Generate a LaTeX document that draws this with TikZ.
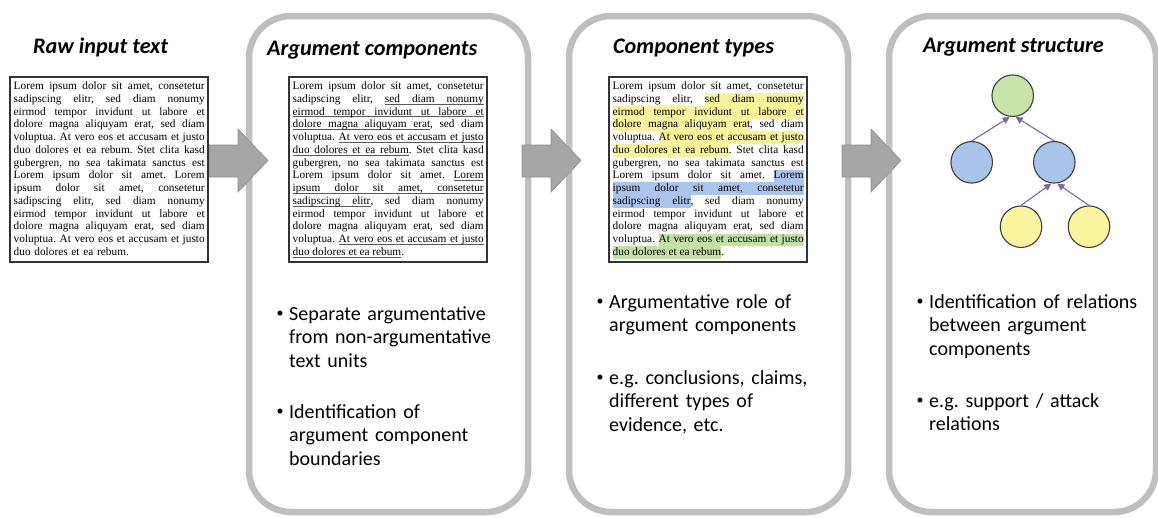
\documentclass[tikz,border=0pt]{standalone}
\usepackage{fontspec}
\setmainfont{Carlito}
\newfontfamily\boxfont{Liberation Serif}
\usetikzlibrary{arrows.meta}

\definecolor{panelgray}{HTML}{BFBFBF}
\definecolor{arrowfill}{HTML}{A6A6A6}
\definecolor{arrowline}{HTML}{8E8E8E}
\definecolor{boxline}{HTML}{333333}
\definecolor{ulc}{HTML}{5A5A5A}
\definecolor{hlY}{HTML}{FBF39B}
\definecolor{hlB}{HTML}{AAC4EC}
\definecolor{hlC}{HTML}{C5E0A5}
\definecolor{nodeG}{HTML}{C9E2A8}
\definecolor{nodeB}{HTML}{A9C4EB}
\definecolor{nodeY}{HTML}{FCF49E}
\definecolor{circline}{HTML}{3F3F3F}
\definecolor{relpurple}{HTML}{8064A2}

% --- marked word runs: underline or highlight that also covers stretched spaces
\makeatletter
\def\mk@glue{\hskip\fontdimen2\font plus\fontdimen3\font minus\fontdimen4\font\relax}
\def\mk@word#1{\setbox0\hbox{#1}\rlap{\color{\mk@col}\vrule \mk@spec width \wd0}\box0}
\def\mk@space{{\color{\mk@col}\leaders\vrule \mk@spec\mk@glue}}
\def\mk@loop#1 #2\@nil{\mk@word{#1}\ifx\relax#2\relax\else\mk@space\mk@loop#2\@nil\fi}
\newcommand\ulseg[1]{\begingroup\def\mk@col{ulc}\def\mk@spec{height -1.3pt depth 1.9pt}\mk@loop#1 \@nil\endgroup}
\newcommand\hlseg[2]{\begingroup\def\mk@col{#1}\def\mk@spec{height 9.2pt depth 3.5pt}\mk@loop#2 \@nil\endgroup}
% one justified line of the sample text
\newcommand\Ln[1]{\hbox to\linewidth{\spaceskip=\fontdimen2\font plus\fontdimen3\font minus\fontdimen4\font\relax #1}}
\makeatother
\newcommand\plainseg[1]{#1}
\newcommand\hlA[1]{\hlseg{hlY}{#1}}
\newcommand\hlB[1]{\hlseg{hlB}{#1}}
\newcommand\hlC[1]{\hlseg{hlC}{#1}}
\newcommand\plainsegs{\let\segA\plainseg\let\segB\plainseg\let\segC\plainseg}
\newcommand\ulsegs{\let\segA\ulseg\let\segB\ulseg\let\segC\ulseg}
\newcommand\hlsegs{\let\segA\hlA\let\segB\hlB\let\segC\hlC}
\newcommand\loremlines{%
\Ln{Lorem ipsum dolor sit amet, consetetur}
\Ln{sadipscing elitr, \segA{sed diam nonumy}}
\Ln{\segA{eirmod tempor invidunt ut labore et}}
\Ln{\segA{dolore magna aliquyam erat}, sed diam}
\Ln{voluptua. \segA{At vero eos et accusam et justo}}
\Ln{\segA{duo dolores et ea rebum}. Stet clita kasd}
\Ln{gubergren, no sea takimata sanctus est}
\Ln{Lorem ipsum dolor sit amet. \segB{Lorem}}
\Ln{\segB{ipsum dolor sit amet, consetetur}}
\Ln{\segB{sadipscing elitr}, sed diam nonumy}
\Ln{eirmod tempor invidunt ut labore et}
\Ln{dolore magna aliquyam erat, sed diam}
\Ln{voluptua. \segC{At vero eos et accusam et justo}}
\hbox{\segC{duo dolores et ea rebum}.}}
\newcommand\loremfont{\boxfont\fontsize{11.3}{12.77}\selectfont\frenchspacing}
\newcommand\itemfont{\fontsize{20}{23.8}\selectfont\frenchspacing}

\tikzset{
  panel/.style={draw=panelgray, line width=6.5pt, rounded corners=42pt,
    inner sep=0pt, minimum height=496pt},
  blockarr/.style={fill=arrowfill, draw=arrowline, line width=0.6pt, line join=miter},
  txtbox/.style={draw=boxline, fill=white, line width=1.3pt, inner sep=0pt,
    minimum width=198pt, minimum height=185pt},
  loremtxt/.style={text width=191pt, inner sep=0pt, anchor=base west, font=\loremfont},
  title/.style={anchor=base west, inner sep=0pt,
    font=\bfseries\itshape\fontsize{22.2}{26}\selectfont},
  bullet/.style={anchor=base west, inner sep=0pt, yshift=2.2pt,
    font=\fontsize{14}{16}\selectfont},
  item/.style={anchor=base west, inner sep=0pt, align=left, text width=240pt,
    font=\itemfont},
  circ/.style={circle, draw=circline, line width=1.1pt, minimum size=41.5pt, inner sep=0pt},
  rel/.style={draw=relpurple, line width=1.1pt, -{Triangle[length=7pt,width=7pt]}},
}

\begin{document}
\begin{tikzpicture}[x=1pt, y=-1pt]
\useasboundingbox (0,0) rectangle (1158,517);
\fill[white] (0,0) rectangle (1158,517);

% rounded stage panels
\node[panel, minimum width=279pt] (p1) at (388.5,264) {};
\node[panel, minimum width=279pt] (p2) at (708.5,264) {};
\node[panel, minimum width=267pt] (p3) at (1022.5,264) {};

% block arrows between the stages
\foreach \x in {209,522,842}
  \draw[blockarr] (\x,145) -- (\x+29,145) -- (\x+29,129) -- (\x+59,160.5)
    -- (\x+29,192) -- (\x+29,177) -- (\x,177) -- cycle;

% titles
\node[title] (t0) at (33,53) {Raw input text};
\node[title] (t1) at (267,55) {Argument components};
\node[title] (t2) at (613,53) {Component types};
\node[title] (t3) at (923,52) {Argument structure};

% text boxes
\node[txtbox] (rawbox) at (109,169.5) {};
\node[txtbox] (acbox) at (388,169.5) {};
\node[txtbox] (ctbox) at (708,169.5) {};
\node[loremtxt] (rawtxt) at (13.5,89.5) {\plainsegs\loremlines};
\node[loremtxt] (actxt) at (292.5,89.5) {\ulsegs\loremlines};
\node[loremtxt] (cttxt) at (612.5,89.5) {\hlsegs\loremlines};

% argument tree
\node[circ, fill=nodeG] (g) at (1012.7,95.7) {};
\node[circ, fill=nodeB] (b1) at (971.7,162.3) {};
\node[circ, fill=nodeB] (b2) at (1054.3,162.3) {};
\node[circ, fill=nodeY] (y1) at (1021,226.7) {};
\node[circ, fill=nodeY] (y2) at (1089,226.7) {};
\draw[rel] (b1.north) -- ([xshift=-3pt]g.south);
\draw[rel] (b2.north) -- ([xshift=3pt]g.south);
\draw[rel] (y1.north) -- ([xshift=-3pt]b2.south);
\draw[rel] (y2.north) -- ([xshift=3pt]b2.south);

% bullet lists
\node[bullet] (d1a) at (276.5,320) {•};
\node[item] (i1a) at (289,320) {Separate argumentative\\from non-argumentative\\text units};
\node[bullet] (d1b) at (276.5,418) {•};
\node[item] (i1b) at (289,418) {Identification of\\argument component\\boundaries};
\node[bullet] (d2a) at (596.5,308) {•};
\node[item] (i2a) at (609,308) {Argumentative role of\\argument components};
\node[bullet] (d2b) at (596.5,384) {•};
\node[item] (i2b) at (609,384) {e.g. conclusions, claims,\\different types of\\evidence, etc.};
\node[bullet] (d3a) at (916.5,308) {•};
\node[item] (i3a) at (929,308) {Identification of relations\\between argument\\components};
\node[bullet] (d3b) at (916.5,407) {•};
\node[item] (i3b) at (929,407) {e.g. support / attack\\relations};
\end{tikzpicture}
\end{document}
